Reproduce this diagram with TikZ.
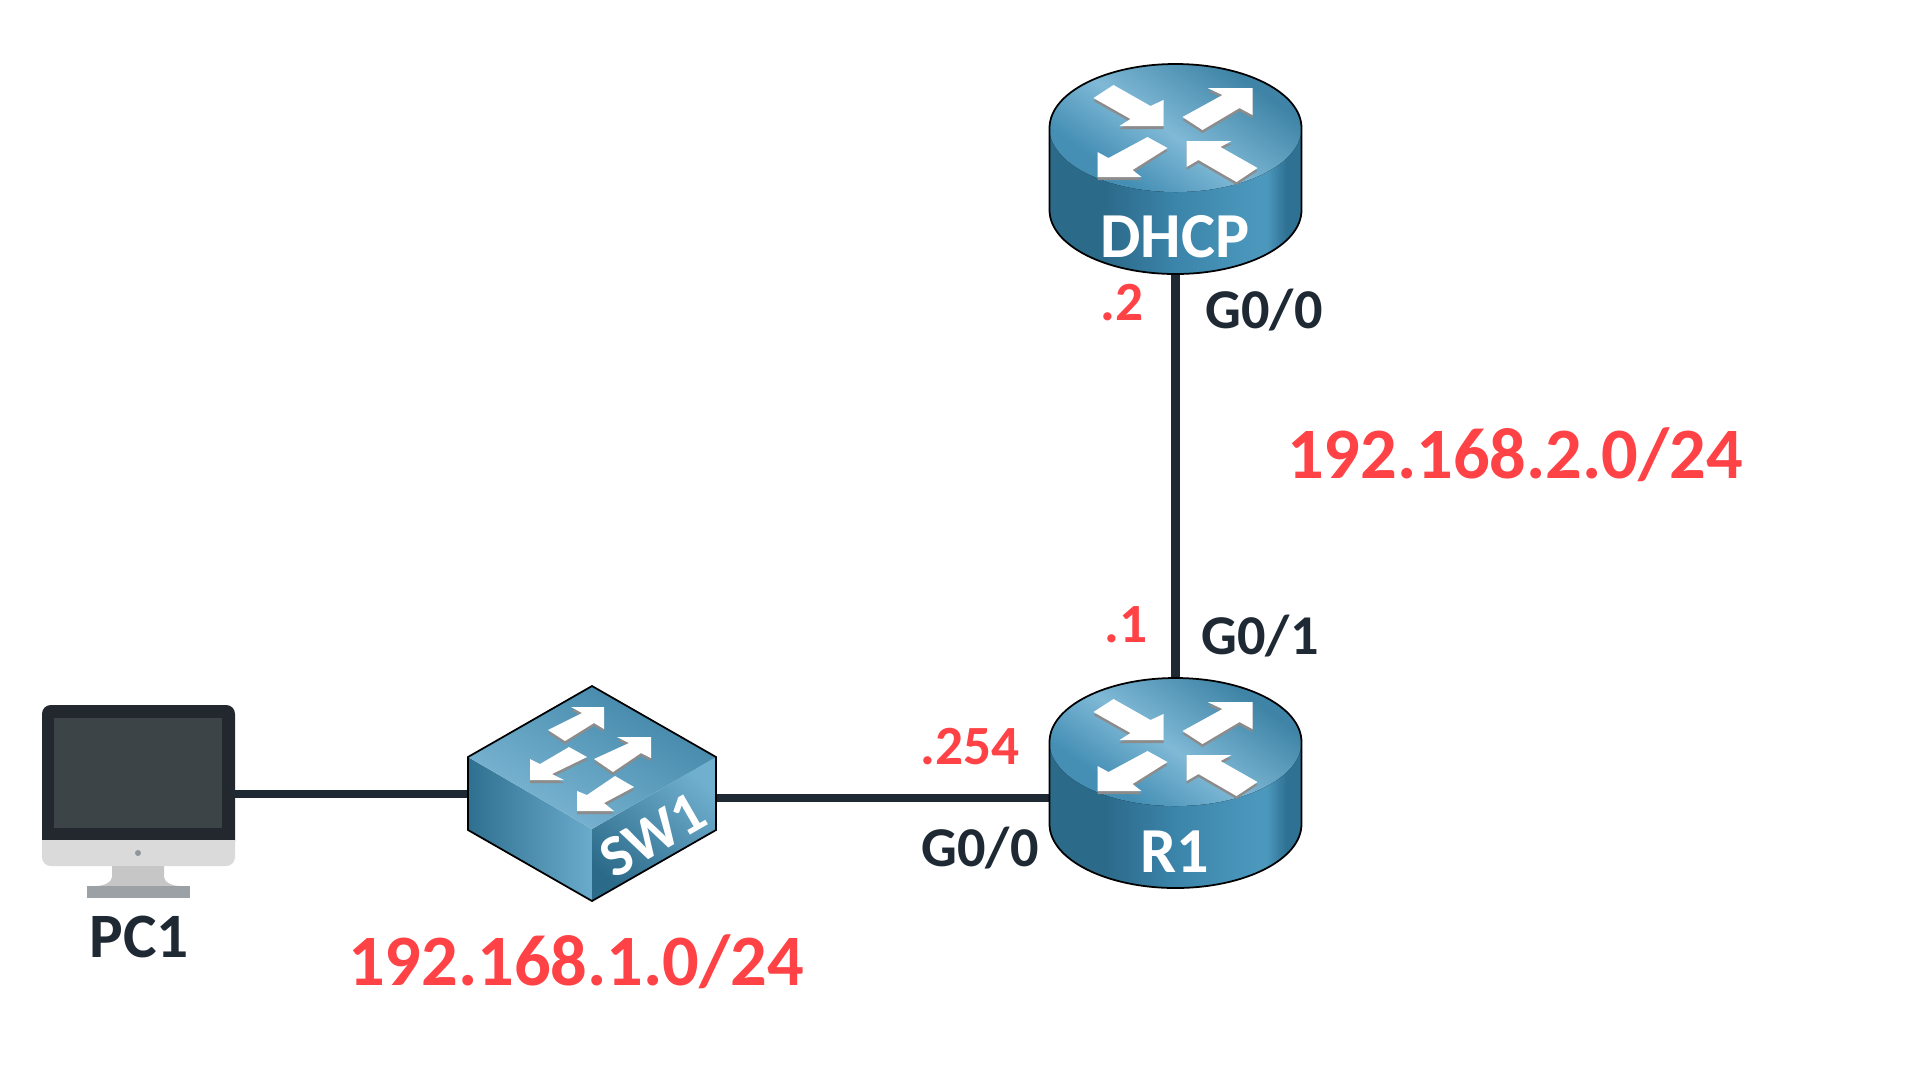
\documentclass[tikz,border=0pt]{standalone}
\usepackage{fontspec}
\setmainfont{Carlito}
\usetikzlibrary{positioning}
\definecolor{mdark}{HTML}{1F2933}
\definecolor{mred}{HTML}{FF4245}
\definecolor{mshadow}{HTML}{8C8C8C}
\definecolor{sidea}{HTML}{2C6A8A}
\definecolor{sideb}{HTML}{3B84AA}
\definecolor{sidec}{HTML}{4C98BD}
\definecolor{sided}{HTML}{2F7193}
\definecolor{topdark}{HTML}{3F84A6}
\definecolor{topmid}{HTML}{458FB5}
\definecolor{toplight}{HTML}{7FB9D6}
\definecolor{pcframe}{HTML}{22282D}
\definecolor{pcscreen}{HTML}{3D4448}
\definecolor{pcchin}{HTML}{DADADA}
\definecolor{pcstand}{HTML}{C6C6C6}
\definecolor{pcbase}{HTML}{9CA1A5}
\definecolor{pcdot}{HTML}{8F969B}
\pgfdeclarehorizontalshading{routerside}{100bp}{color(0bp)=(sidea); color(36bp)=(sidea); color(50bp)=(sideb); color(66bp)=(sidec); color(68bp)=(sidec); color(72bp)=(sided); color(100bp)=(sided)}
\pgfdeclareverticalshading{routertop}{100bp}{color(0bp)=(topmid); color(30bp)=(topmid); color(48bp)=(toplight); color(72bp)=(topdark); color(100bp)=(topdark)}
\tikzset{devbox/.style = {inner sep=0, outer sep=0}}
\tikzset{link/.style = {mdark, line width=5pt}}
\tikzset{devlabel/.style = {white, font=\bfseries\fontsize{36.5}{40}\selectfont}}
\tikzset{swlabel/.style = {white, font=\bfseries\fontsize{33.5}{40}\selectfont}}
\tikzset{hostlabel/.style = {mdark, font=\bfseries\fontsize{36}{40}\selectfont}}
\tikzset{portlabel/.style = {mdark, font=\bfseries\fontsize{32}{36}\selectfont}}
\tikzset{addrlabel/.style = {mred, font=\bfseries\fontsize{31.5}{36}\selectfont}}
\tikzset{netlabel/.style = {mred, font=\bfseries\fontsize{41.2}{48}\selectfont}}
\newcommand{\routeroutline}{(-126, 0) -- (-126, 82) .. controls (-126, 117.3) and (-69.6, 146) .. (0, 146) .. controls (69.6, 146) and (126, 117.3) .. (126, 82) -- (126, 0) .. controls (126, -35.3) and (69.6, -64) .. (0, -64) .. controls (-69.6, -64) and (-126, -35.3) .. (-126, 0) -- cycle}
\newcommand{\switchoutline}{(0, -71) -- (124, 0) -- (124, 73) -- (0, 144) -- (-124, 73) -- (-124, 0) -- cycle}
\tikzset{routericon/.pic = {
    \fill [shading=routerside] \routeroutline;
    \fill [shading=routertop, shading angle=-35] (0, 0) ellipse [x radius=126, y radius=64];
    \draw [black, line width=1pt] \routeroutline;
    \foreach \dy/\col in {3/mshadow, 0/white} {
      \fill [\col, shift={(0, \dy)}] (-82, -30) -- (-62, -43) -- (-25, -22) -- (-12, -28) -- (-12, -2) -- (-56, -2) -- (-45, -9) -- cycle;
      \fill [\col, shift={(0, \dy)}] (7, -11) -- (47, -33) -- (32, -40) -- (77, -40) -- (77, -13) -- (64, -20) -- (27, 2) -- cycle;
      \fill [\col, shift={(0, \dy)}] (-28, 9) -- (-8, 20) -- (-43, 42) -- (-34, 49) -- (-78, 49) -- (-78, 24) -- (-67, 30) -- cycle;
      \fill [\col, shift={(0, \dy)}] (11, 13) -- (56, 13) -- (45, 19) -- (82, 40) -- (61, 54) -- (23, 32) -- (11, 39) -- cycle;
    }
}}
\tikzset{switchicon/.pic = {
    \shade [left color=sidea!80!sideb, right color=toplight!60!sidec] (-124, 0) -- (0, 72) -- (0, 144) -- (-124, 73) -- cycle;
    \shade [top color=toplight!70!sidec, bottom color=sidea, shading angle=-40] (124, 0) -- (0, 72) -- (0, 144) -- (124, 73) -- cycle;
    \shade [top color=topdark, bottom color=toplight, shading angle=-30] (0, -71) -- (124, 0) -- (0, 72) -- (-124, 0) -- cycle;
    \draw [black, line width=1pt] \switchoutline;
    \foreach \dy/\col in {3/mshadow, 0/white} {
      \fill [\col, shift={(0, \dy)}] (-44, -27) -- (-10, -44) -- (-21, -50) -- (12, -50) -- (12, -28) -- (2, -34) -- (-27, -16) -- cycle;
      \fill [\col, shift={(0, \dy)}] (2, 2) -- (37, -14) -- (25, -20) -- (59, -20) -- (59, 1) -- (49, -4) -- (21, 15) -- cycle;
      \fill [\col, shift={(0, \dy)}] (-23, -10) -- (-5, 0) -- (-40, 17) -- (-28, 23) -- (-62, 23) -- (-62, 2) -- (-52, 7) -- cycle;
      \fill [\col, shift={(0, \dy)}] (23, 19) -- (42, 30) -- (12, 46) -- (22, 54) -- (-15, 54) -- (-15, 34) -- (-5, 38) -- cycle;
    }
}}

\begin{document}
\begin{tikzpicture}[x=0.02cm, y=-0.02cm]
    \useasboundingbox (0, 0) rectangle (1920, 1080);
    \fill [white] (0, 0) rectangle (1920, 1080);

    \node (pcbox) [devbox, minimum width=3.86cm, minimum height=3.86cm] at (138.5, 801.5) {};
    \node (swbox) [devbox, minimum width=4.96cm, minimum height=4.3cm] at (592, 793.5) {};
    \node (r1box) [devbox, minimum width=5.06cm, minimum height=4.22cm] at (1175.5, 783.5) {};
    \node (dhcpbox) [devbox, minimum width=5.06cm, minimum height=4.2cm] at (1175.5, 169) {};

    \draw [link] (pcbox.east |- 0,794) -- (swbox.west |- 0,794);
    \draw [link] (swbox.east |- 0,798) -- (r1box.west |- 0,798);
    \draw [link] (dhcpbox.south) -- (r1box.north);

    \pic at (1175.5, 128) {routericon};
    \pic at (1175.5, 742) {routericon};
    \pic at (592, 757) {switchicon};

    % monitor
    \fill [pcchin, rounded corners=5pt] (42, 830) -- (42, 866) -- (235, 866) -- (235, 830) -- cycle;
    \fill [pcframe, rounded corners=5pt] (42, 850) -- (42, 705) -- (235, 705) -- (235, 850) -- cycle;
    \fill [pcchin] (42, 840) rectangle (235, 855);
    \fill [pcscreen] (54, 718) rectangle (222, 828);
    \fill [pcdot] (138, 853) circle [radius=3];
    \fill [pcstand] (112, 866) -- (164, 866) -- (164, 877) .. controls (164, 882) and (172, 886) .. (180, 886) -- (96, 886) .. controls (104, 886) and (112, 882) .. (112, 877) -- cycle;
    \fill [pcbase] (87, 886) rectangle (190, 898);

    \node (dhcplabel) [devlabel] at (1175, 237) {DHCP};
    \node (r1label) [devlabel] at (1175, 852) {R1};
    \node (swtext) [swlabel, rotate=30] at (653, 835) {SW1};
    \node (pclabel) [hostlabel] at (139, 937) {PC1};

    \node (dhcpport) [portlabel] at (1264, 310) {G0/0};
    \node (r1top) [portlabel] at (1260, 636) {G0/1};
    \node (r1left) [portlabel] at (980, 848) {G0/0};

    \node (dhcpaddr) [addrlabel] at (1122, 303) {.2};
    \node (r1topaddr) [addrlabel] at (1126, 625) {.1};
    \node (r1leftaddr) [addrlabel] at (970, 747) {.254};

    \node (netright) [netlabel] at (1515, 455) {192.168.2.0/24};
    \node (netleft) [netlabel] at (576, 962) {192.168.1.0/24};
\end{tikzpicture}
\end{document}
